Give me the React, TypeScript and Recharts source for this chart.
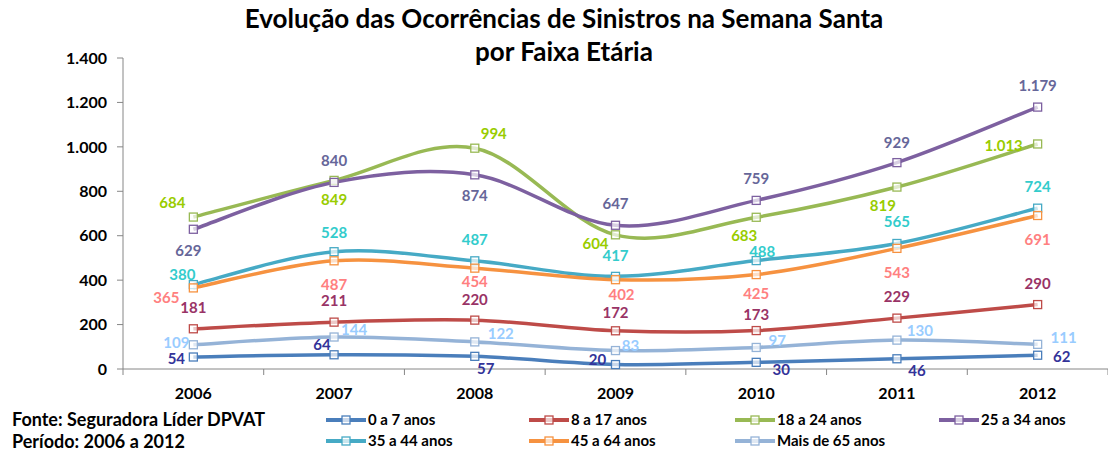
import React from 'react';
import { LineChart, Line, XAxis, YAxis } from 'recharts';

const years = ['2006', '2007', '2008', '2009', '2010', '2011', '2012'];

const idade0a7 = [54, 64, 57, 20, 30, 46, 62];
const idade8a17 = [181, 211, 220, 172, 173, 229, 290];
const idade18a24 = [684, 849, 994, 604, 683, 819, 1013];
const idade25a34 = [629, 840, 874, 647, 759, 929, 1179];
const idade35a44 = [380, 528, 487, 417, 488, 565, 724];
const idade45a64 = [365, 487, 454, 402, 425, 543, 691];
const idadeMais65 = [109, 144, 122, 83, 97, 130, 111];

const yTicks = [0, 200, 400, 600, 800, 1000, 1200, 1400];

// where each data label sits relative to its point (dx, dy)
const labelOffsets: Record<string, [number, number][]> = {
  a0: [[-17, 1], [-12, -11], [11, 12], [-18, -6], [25, 7], [20, 11], [24, 1]],
  a8: [[0, -22], [0, -22], [0, -21], [0, -19], [0, -17], [0, -22], [0, -22]],
  a18: [[-21, -15], [0, 19], [19, -15], [-20, 8], [-12, 18], [-14, 18], [-34, 1]],
  a25: [[-5, 21], [0, -22], [0, 20], [0, -22], [0, -22], [0, -21], [0, -22]],
  a35: [[-11, -11], [0, -20], [0, -22], [0, -21], [6, -10], [0, -22], [0, -22]],
  a45: [[-27, 9], [0, 23], [0, 13], [6, 14], [0, 18], [0, 24], [0, 24]],
  a65: [[-17, -3], [20, -8], [26, -9], [15, -6], [21, -7], [23, -10], [26, -7]],
};

const series = [
  { key: 'a0', name: '0 a 7 anos', values: idade0a7, color: '#4A7EBB', label: '#333399' },
  { key: 'a8', name: '8 a 17 anos', values: idade8a17, color: '#BE4B48', label: '#993366' },
  { key: 'a18', name: '18 a 24 anos', values: idade18a24, color: '#98B954', label: '#99CC00' },
  { key: 'a25', name: '25 a 34 anos', values: idade25a34, color: '#7D60A0', label: '#666699' },
  { key: 'a35', name: '35 a 44 anos', values: idade35a44, color: '#46AAC5', label: '#33CCCC' },
  { key: 'a45', name: '45 a 64 anos', values: idade45a64, color: '#F69240', label: '#FF8080' },
  { key: 'a65', name: 'Mais de 65 anos', values: idadeMais65, color: '#95B3D7', label: '#99CCFF' },
];

const data = years.map((year, i) => {
  const row: Record<string, string | number> = { year };
  series.forEach((s) => {
    row[s.key] = s.values[i];
  });
  return row;
});

const W = 1108;
const H = 452;
const Y_AXIS_W = 123;
const STEP = (W - Y_AXIS_W) / years.length;
const FONT = 'Lato, "Open Sans", sans-serif';

const fmt = (v: number) => String(v).replace(/\B(?=(\d{3})+(?!\d))/g, '.');

// excel-like smoothed line (catmull-rom as cubic bezier)
function smoothCurve(context: any) {
  let pts: [number, number][] = [];
  return {
    areaStart() {},
    areaEnd() {},
    lineStart() {
      pts = [];
    },
    point(x: number, y: number) {
      pts.push([+x, +y]);
    },
    lineEnd() {
      if (!pts.length) return;
      context.moveTo(pts[0][0], pts[0][1]);
      for (let i = 0; i < pts.length - 1; i++) {
        const p0 = pts[Math.max(i - 1, 0)];
        const p1 = pts[i];
        const p2 = pts[i + 1];
        const p3 = pts[Math.min(i + 2, pts.length - 1)];
        context.bezierCurveTo(
          p1[0] + (p2[0] - p0[0]) / 6,
          p1[1] + (p2[1] - p0[1]) / 6,
          p2[0] - (p3[0] - p1[0]) / 6,
          p2[1] - (p3[1] - p1[1]) / 6,
          p2[0],
          p2[1]
        );
      }
    },
  };
}

const squareDot = (color: string) => (props: any) => {
  const { cx, cy, index } = props;
  if (cx == null || cy == null) return <g key={index} />;
  return (
    <rect
      key={index}
      x={cx - 4}
      y={cy - 4}
      width={8}
      height={8}
      fill="#fff"
      fillOpacity={0.7}
      stroke={color}
      strokeWidth={1.3}
    />
  );
};

const dataLabel = (key: string, color: string) => (props: any) => {
  const { x, y, value, index } = props;
  const [dx, dy] = labelOffsets[key][index] || [0, -20];
  return (
    <text
      key={index}
      x={x + dx}
      y={y + dy}
      textAnchor="middle"
      dominantBaseline="central"
      fontSize={15}
      fontWeight={700}
      fontFamily={FONT}
      fill={color}
    >
      {fmt(value)}
    </text>
  );
};

const YearTick = (props: any) => {
  const { x, y, payload, index } = props;
  return (
    <g>
      <text
        x={x}
        y={y + 23}
        textAnchor="middle"
        dominantBaseline="central"
        fontSize={16}
        fontWeight={700}
        fontFamily={FONT}
        fill="#000"
      >
        {payload.value}
      </text>
      <line x1={x - STEP / 2} x2={x - STEP / 2} y1={y} y2={y + 6} stroke="#868686" />
      {index === years.length - 1 && (
        <line x1={x + STEP / 2} x2={x + STEP / 2} y1={y} y2={y + 6} stroke="#868686" />
      )}
    </g>
  );
};

const legendCols = [326, 529, 735, 939];
const legendRows = [420, 441];

export default function App() {
  return (
    <div
      style={{
        position: 'absolute',
        left: 0,
        top: 0,
        width: W,
        height: H,
        background: '#fff',
        fontFamily: FONT,
      }}
    >
      <LineChart
        width={W}
        height={H}
        data={data}
        margin={{ top: 58, right: 0, left: 0, bottom: 53 }}
      >
        <XAxis
          dataKey="year"
          height={30}
          padding={{ left: STEP / 2, right: STEP / 2 }}
          axisLine={{ stroke: '#868686' }}
          tickLine={false}
          tickSize={0}
          tickMargin={0}
          tick={<YearTick />}
          interval={0}
        />
        <YAxis
          width={Y_AXIS_W}
          domain={[0, 1400]}
          ticks={yTicks}
          tickFormatter={fmt}
          axisLine={{ stroke: '#868686' }}
          tickLine={{ stroke: '#868686' }}
          tickSize={6}
          tickMargin={10}
          tick={{ fill: '#000', fontSize: 16, fontWeight: 700, fontFamily: FONT }}
        />
        {series.map((s) => (
          <Line
            key={s.key}
            dataKey={s.key}
            name={s.name}
            type={smoothCurve as any}
            stroke={s.color}
            strokeWidth={3.5}
            dot={squareDot(s.color)}
            activeDot={false}
            label={dataLabel(s.key, s.label)}
            isAnimationActive={false}
          />
        ))}
      </LineChart>

      <svg
        width={W}
        height={H}
        style={{ position: 'absolute', left: 0, top: 0, pointerEvents: 'none' }}
        fontFamily={FONT}
        fontWeight={700}
      >
        <text x={564} y={28} textAnchor="middle" fontSize={26}>
          Evolução das Ocorrências de Sinistros na Semana Santa
        </text>
        <text x={564} y={61} textAnchor="middle" fontSize={26}>
          por Faixa Etária
        </text>

        <text x={12} y={legendRows[0] + 6} fontSize={18}>
          Fonte: Seguradora Líder DPVAT
        </text>
        <text x={12} y={legendRows[1] + 7} fontSize={18}>
          Período: 2006 a 2012
        </text>

        {series.map((s, i) => {
          const x = legendCols[i % 4];
          const y = legendRows[Math.floor(i / 4)];
          return (
            <g key={s.key}>
              <line x1={x} x2={x + 40} y1={y} y2={y} stroke={s.color} strokeWidth={4} />
              <rect
                x={x + 16}
                y={y - 4}
                width={8}
                height={8}
                fill="#fff"
                fillOpacity={0.7}
                stroke={s.color}
                strokeWidth={1.3}
              />
              <text x={x + 42} y={y + 5} fontSize={15}>
                {s.name}
              </text>
            </g>
          );
        })}
      </svg>
    </div>
  );
}
